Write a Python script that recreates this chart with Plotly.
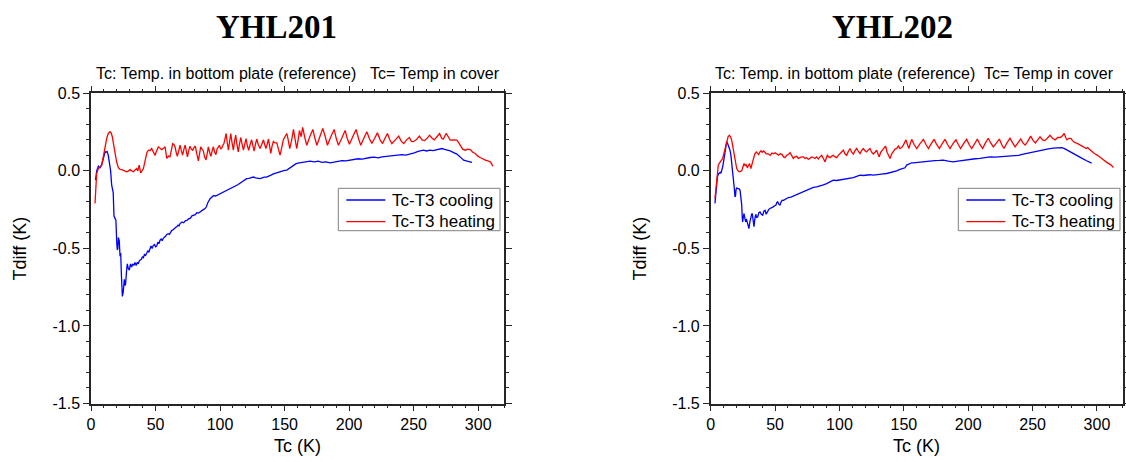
import plotly.graph_objects as go

# ---------------- data ----------------
titles = ["YHL201", "YHL202"]
subtitle_left = "Tc: Temp. in bottom plate (reference)"
subtitle_right = "Tc= Temp in cover"
x_title = "Tc (K)"
y_title = "Tdiff (K)"
series_names = ["Tc-T3 cooling", "Tc-T3 heating"]
x_tick_vals = [0, 50, 100, 150, 200, 250, 300]
y_tick_vals = [-1.5, -1.0, -0.5, 0.0, 0.5]
y_tick_text = ["-1.5", "-1.0", "-0.5", "0.0", "0.5"]

# YHL201 cooling
c1_T = [3.5, 4.4, 5.7, 7.0, 8.3, 9.2, 10.1, 11.0, 11.6, 12.5, 13.4, 14.3, 15.2, 16.0, 16.5, 17.2, 17.8, 18.6,
        19.3, 20.0, 20.4, 20.8, 21.2, 21.9, 22.5, 23.0, 23.6, 24.3, 25.0, 25.8, 26.3, 26.8, 27.4, 28.1, 28.9,
        29.7, 30.6, 31.5, 32.3, 33.2, 34.1, 35.0, 35.8, 36.7, 37.4, 38.0, 39.0, 39.8, 40.6, 41.4, 42.3, 43.2,
        44.0, 44.8, 45.7, 46.5, 47.4, 48.3, 49.2, 50.0, 50.9, 51.8, 52.6, 53.5, 54.4, 55.2, 56.0, 57.0, 57.9,
        58.7, 59.8, 60.8, 61.7, 62.5, 63.6, 64.6, 65.5, 66.4, 67.5, 68.2, 69.0, 70.5, 71.8, 73.0, 74.2, 75.6,
        77.0, 78.2, 79.3, 80.8, 82.0, 83.3, 84.5, 85.8, 87.0, 88.4, 89.5, 90.5, 91.5, 92.3, 93.5, 94.8, 96.5,
        98.2, 100.0, 101.5, 103.2, 105.0, 106.8, 108.5, 110.3, 112.0, 113.7, 115.4, 117.2, 118.9, 120.6, 122.3,
        124.0, 125.8, 127.5, 129.2, 131.0, 132.7, 134.3, 136.0, 137.8, 139.5, 141.3, 143.0, 144.8, 146.5, 148.2,
        150.0, 151.7, 153.4, 155.2, 156.9, 158.6, 160.3, 162.0, 165.0, 167.5, 169.8, 173.0, 176.0, 179.0, 182.0,
        185.3, 188.5, 191.5, 194.5, 197.5, 200.8, 204.0, 207.0, 210.0, 213.0, 216.3, 219.5, 222.5, 225.5, 228.5,
        231.8, 235.0, 238.0, 241.0, 244.0, 247.3, 250.5, 253.5, 255.5, 257.6, 260.0, 262.5, 265.0, 268.0, 270.0,
        271.9, 274.0, 276.0, 278.3, 281.0, 283.5, 286.0, 288.7, 291.5, 293.5, 295.2]
c1_V = [-0.06, 0.0, 0.03, 0.02, 0.04, 0.07, 0.11, 0.125, 0.12, 0.125, 0.10, 0.06, 0.0, -0.09, -0.13, -0.14, -0.29,
        -0.31, -0.32, -0.47, -0.51, -0.50, -0.43, -0.45, -0.55, -0.53, -0.68, -0.81, -0.78, -0.70, -0.74, -0.73,
        -0.66, -0.60, -0.63, -0.64, -0.60, -0.62, -0.60, -0.61, -0.59, -0.61, -0.59, -0.60, -0.58, -0.575, -0.57,
        -0.555, -0.56, -0.54, -0.545, -0.53, -0.515, -0.525, -0.50, -0.485, -0.50, -0.48, -0.475, -0.49, -0.485,
        -0.46, -0.47, -0.447, -0.44, -0.45, -0.435, -0.43, -0.42, -0.41, -0.405, -0.41, -0.39, -0.385, -0.38,
        -0.375, -0.365, -0.36, -0.35, -0.355, -0.34, -0.33, -0.335, -0.322, -0.32, -0.31, -0.305, -0.29, -0.285,
        -0.282, -0.27, -0.272, -0.265, -0.255, -0.25, -0.243, -0.23, -0.205, -0.19, -0.18, -0.17, -0.16, -0.162,
        -0.155, -0.15, -0.145, -0.135, -0.128, -0.12, -0.115, -0.107, -0.10, -0.09, -0.08, -0.07, -0.06, -0.05,
        -0.048, -0.045, -0.04, -0.045, -0.048, -0.05, -0.045, -0.04, -0.04, -0.035, -0.028, -0.02, -0.015, -0.01,
        -0.006, -0.002, 0.003, 0.005, 0.015, 0.03, 0.037, 0.045, 0.05, 0.052, 0.058, 0.063, 0.062, 0.058, 0.062,
        0.055, 0.058, 0.052, 0.058, 0.062, 0.066, 0.064, 0.069, 0.072, 0.078, 0.076, 0.082, 0.086, 0.088, 0.084,
        0.09, 0.093, 0.095, 0.097, 0.10, 0.104, 0.102, 0.108, 0.116, 0.125, 0.13, 0.133, 0.128, 0.133, 0.13,
        0.135, 0.14, 0.144, 0.138, 0.136, 0.129, 0.118, 0.108, 0.09, 0.069, 0.062, 0.058, 0.054]

# YHL201 heating
h1_T = [3.1, 3.8, 4.4, 5.7, 7.0, 8.3, 9.5, 10.9, 12.2, 13.4, 14.7, 15.6, 16.5, 17.5, 18.6, 19.8, 21.2, 22.5, 23.8,
        25.0, 26.3, 27.7, 29.0, 30.3, 31.6, 32.9, 34.1, 35.4, 36.3, 37.3, 38.5, 39.5, 40.6, 41.5, 42.4, 43.4, 44.5,
        45.7, 47.0, 48.3, 49.6, 50.9, 52.2, 53.5, 54.8, 56.1, 57.4, 58.7, 60.0, 61.2, 62.3, 63.3, 64.2, 65.1, 66.0,
        66.9, 68.0, 69.0, 70.0, 71.0, 72.0, 72.9, 73.8, 74.7, 75.7, 76.7, 77.7, 78.8, 79.8, 80.8, 82.0, 83.2, 84.1,
        85.0, 86.0, 87.0, 88.0, 89.1, 90.0, 90.9, 91.9, 92.9, 93.9, 94.8, 95.8, 96.8, 97.6, 98.6, 99.5, 100.5,
        101.5, 102.2, 103.0, 103.9, 104.7, 105.6, 106.5, 107.4, 108.3, 109.3, 110.3, 111.2, 112.1, 113.1, 114.1,
        115.0, 116.0, 117.1, 118.1, 119.1, 120.1, 121.2, 122.2, 123.3, 124.5, 125.5, 126.4, 127.4, 128.4, 129.6,
        131.0, 132.3, 133.6, 134.6, 135.5, 136.5, 137.5, 138.4, 139.3, 140.3, 141.3, 142.6, 144.0, 145.2, 146.5,
        147.8, 149.0, 150.3, 151.7, 152.8, 154.0, 155.5, 156.9, 158.0, 159.4, 160.5, 161.5, 162.8, 164.0, 165.5,
        167.2, 169.5, 171.9, 173.5, 175.0, 177.3, 179.6, 181.5, 183.2, 185.8, 188.4, 190.0, 191.7, 194.3, 196.9,
        198.5, 200.2, 202.8, 205.4, 207.2, 209.0, 211.4, 213.7, 215.6, 217.6, 219.8, 221.9, 224.0, 225.9, 227.8,
        229.7, 231.5, 233.1, 235.8, 238.4, 240.5, 242.3, 244.5, 246.7, 248.2, 249.8, 252.0, 254.4, 256.5, 258.4,
        260.4, 262.3, 264.3, 266.0, 268.0, 270.1, 271.7, 273.0, 274.2, 275.2, 276.8, 278.3, 281.0, 283.5, 285.0,
        286.1, 288.0, 290.0, 292.0, 293.9, 295.8, 297.7, 299.7, 301.6, 303.5, 305.5, 307.5, 309.4, 310.4, 311.4]
h1_V = [-0.21, -0.10, -0.017, 0.015, 0.03, 0.037, 0.09, 0.155, 0.21, 0.241, 0.252, 0.245, 0.22, 0.17, 0.112, 0.06,
        0.02, 0.01, 0.008, 0.005, 0.0, -0.006, 0.0, 0.008, 0.0, -0.006, 0.005, 0.015, 0.0, 0.037, -0.013, 0.0, 0.015,
        0.05, 0.09, 0.12, 0.133, 0.13, 0.144, 0.12, 0.10, 0.13, 0.155, 0.145, 0.137, 0.145, 0.155, 0.08, 0.095, 0.09,
        0.13, 0.176, 0.17, 0.155, 0.12, 0.094, 0.13, 0.165, 0.13, 0.101, 0.14, 0.165, 0.13, 0.09, 0.13, 0.159, 0.14,
        0.133, 0.15, 0.16, 0.11, 0.064, 0.11, 0.155, 0.14, 0.13, 0.09, 0.07, 0.11, 0.155, 0.12, 0.094, 0.13, 0.155,
        0.12, 0.105, 0.14, 0.15, 0.165, 0.14, 0.15, 0.165, 0.176, 0.21, 0.241, 0.18, 0.133, 0.19, 0.241, 0.18, 0.133,
        0.19, 0.23, 0.17, 0.122, 0.17, 0.215, 0.17, 0.133, 0.17, 0.208, 0.16, 0.133, 0.17, 0.20, 0.16, 0.128, 0.17,
        0.205, 0.17, 0.144, 0.17, 0.20, 0.17, 0.144, 0.17, 0.205, 0.16, 0.112, 0.16, 0.19, 0.18, 0.18, 0.14, 0.101,
        0.15, 0.20, 0.22, 0.241, 0.20, 0.144, 0.20, 0.267, 0.21, 0.144, 0.20, 0.26, 0.22, 0.28, 0.22, 0.165, 0.22,
        0.267, 0.21, 0.165, 0.22, 0.274, 0.22, 0.165, 0.22, 0.267, 0.21, 0.165, 0.21, 0.26, 0.21, 0.172, 0.22, 0.267,
        0.21, 0.165, 0.21, 0.252, 0.21, 0.176, 0.21, 0.245, 0.20, 0.176, 0.21, 0.241, 0.20, 0.176, 0.20, 0.224, 0.19,
        0.176, 0.20, 0.215, 0.19, 0.188, 0.20, 0.224, 0.20, 0.195, 0.21, 0.23, 0.21, 0.20, 0.22, 0.241, 0.21, 0.205,
        0.225, 0.241, 0.22, 0.198, 0.20, 0.198, 0.18, 0.165, 0.14, 0.133, 0.14, 0.137, 0.12, 0.112, 0.095, 0.086,
        0.075, 0.069, 0.065, 0.058, 0.045, 0.03]

# YHL202 cooling
c2_T = [3.3, 4.1, 5.2, 6.0, 6.7, 7.4, 8.0, 8.7, 9.3, 10.0, 10.6, 11.5, 12.4, 13.0, 13.7, 14.4, 15.0, 15.7, 16.3,
        17.0, 17.6, 18.3, 18.9, 19.3, 19.7, 20.3, 21.0, 21.9, 22.8, 23.5, 24.1, 24.5, 24.8, 25.3, 25.9, 26.6, 27.2,
        27.7, 28.3, 29.0, 29.7, 30.4, 31.2, 31.8, 32.3, 33.0, 33.6, 34.3, 35.0, 35.7, 36.5, 37.4, 38.3, 39.3, 40.4,
        41.3, 42.2, 43.1, 44.0, 45.0, 46.0, 47.3, 48.6, 49.6, 50.7, 51.3, 52.0, 53.0, 53.8, 54.7, 55.6, 56.6, 57.7,
        59.0, 60.3, 62.3, 64.2, 66.8, 69.4, 72.0, 74.5, 77.1, 79.7, 82.3, 84.9, 87.5, 90.1, 92.7, 95.2, 97.8, 100.4,
        103.0, 105.6, 108.2, 110.8, 113.4, 116.0, 118.5, 121.1, 123.7, 126.3, 128.9, 131.5, 134.1, 136.7, 139.3,
        141.8, 144.4, 147.0, 149.0, 150.9, 152.2, 154.0, 156.1, 157.3, 160.0, 162.6, 166.5, 170.3, 174.0, 177.5,
        180.7, 184.5, 188.5, 192.0, 195.5, 198.8, 202.0, 205.5, 209.2, 213.0, 217.0, 220.8, 224.7, 228.5, 232.0,
        235.1, 239.0, 242.8, 246.5, 250.6, 254.5, 258.4, 262.3, 266.1, 269.5, 272.6, 274.5, 276.5, 279.0, 281.7,
        285.0, 288.1, 292.0, 295.9]
c2_V = [-0.21, -0.125, -0.04, -0.02, -0.017, -0.01, -0.015, 0.0, 0.026, 0.06, 0.09, 0.14, 0.188, 0.18, 0.165, 0.15,
        0.133, 0.10, 0.058, 0.01, -0.04, -0.11, -0.168, -0.16, -0.12, -0.11, -0.114, -0.115, -0.125, -0.17, -0.221,
        -0.30, -0.329, -0.30, -0.275, -0.31, -0.329, -0.31, -0.33, -0.35, -0.372, -0.33, -0.29, -0.28, -0.275, -0.32,
        -0.36, -0.31, -0.28, -0.30, -0.297, -0.27, -0.265, -0.28, -0.286, -0.26, -0.254, -0.28, -0.26, -0.25, -0.243,
        -0.24, -0.232, -0.225, -0.22, -0.205, -0.20, -0.215, -0.22, -0.20, -0.189, -0.19, -0.185, -0.178, -0.172,
        -0.17, -0.163, -0.155, -0.146, -0.135, -0.125, -0.118, -0.107, -0.104, -0.099, -0.09, -0.082, -0.07, -0.06,
        -0.062, -0.058, -0.055, -0.05, -0.048, -0.043, -0.035, -0.028, -0.03, -0.028, -0.025, -0.028, -0.024, -0.021,
        -0.02, -0.017, -0.012, -0.006, 0.0, 0.009, 0.015, 0.02, 0.037, 0.045, 0.052, 0.052, 0.055, 0.058, 0.062,
        0.065, 0.066, 0.067, 0.069, 0.062, 0.058, 0.063, 0.068, 0.073, 0.075, 0.078, 0.08, 0.085, 0.09, 0.088, 0.09,
        0.091, 0.093, 0.095, 0.10, 0.108, 0.115, 0.124, 0.132, 0.139, 0.142, 0.146, 0.148, 0.15, 0.145, 0.135,
        0.125, 0.114, 0.098, 0.082, 0.065, 0.05]

# YHL202 heating
h2_T = [3.3, 4.0, 4.6, 5.3, 5.9, 6.8, 7.7, 8.5, 9.3, 10.2, 11.1, 11.8, 12.4, 13.5, 14.5, 15.4, 16.3, 17.2, 18.1,
        19.2, 20.2, 21.2, 22.2, 23.2, 24.1, 25.0, 25.9, 26.7, 27.5, 28.5, 29.3, 30.1, 30.7, 31.2, 32.3, 33.3, 34.3,
        35.4, 36.3, 37.2, 38.1, 39.0, 40.0, 41.1, 42.1, 43.1, 44.6, 46.2, 47.5, 48.8, 50.1, 51.4, 52.7, 54.0, 55.5,
        56.6, 57.7, 59.0, 60.3, 61.6, 62.9, 64.2, 65.5, 66.8, 68.1, 69.4, 70.7, 72.0, 73.2, 74.5, 75.8, 77.0, 78.4,
        79.7, 81.0, 82.3, 83.6, 84.9, 86.2, 87.5, 88.8, 89.7, 90.6, 91.7, 92.8, 94.0, 95.2, 96.5, 97.8, 99.1, 100.4,
        101.7, 103.0, 104.3, 105.6, 106.9, 108.2, 109.5, 110.8, 112.1, 113.4, 114.7, 116.0, 117.2, 118.5, 119.8,
        121.1, 122.4, 123.7, 125.0, 126.3, 127.6, 128.9, 129.9, 130.9, 132.0, 133.2, 134.5, 135.8, 137.0, 138.2,
        139.3, 140.6, 141.9, 143.2, 144.5, 145.8, 147.0, 148.3, 149.6, 150.6, 151.7, 152.8, 153.9, 155.0, 156.1,
        158.0, 160.0, 162.6, 165.2, 167.2, 169.1, 171.3, 173.5, 175.5, 177.6, 179.8, 182.0, 184.0, 185.9, 188.2,
        190.5, 192.3, 194.1, 196.4, 198.8, 200.7, 202.7, 205.0, 207.1, 209.1, 211.2, 213.4, 215.6, 217.5, 219.5,
        222.0, 224.2, 226.0, 227.8, 230.1, 232.5, 234.5, 236.4, 238.6, 240.8, 242.5, 244.2, 246.3, 248.5, 250.5,
        252.2, 254.0, 255.8, 257.8, 259.5, 261.5, 263.5, 265.5, 267.5, 269.5, 271.5, 273.0, 274.6, 275.7, 276.7,
        278.3, 279.8, 281.0, 282.4, 285.0, 287.6, 289.5, 291.5, 292.8, 294.1, 296.0, 298.0, 300.5, 303.2, 305.2,
        307.1, 309.0, 311.0, 312.8]
h2_V = [-0.178, -0.12, -0.06, 0.0, 0.037, 0.05, 0.058, 0.07, 0.08, 0.11, 0.144, 0.17, 0.198, 0.22, 0.23, 0.22, 0.198,
        0.15, 0.101, 0.05, 0.015, 0.0, -0.006, -0.004, 0.0, 0.025, 0.047, 0.035, 0.04, 0.02, 0.04, 0.047, 0.03, 0.015,
        0.05, 0.09, 0.11, 0.122, 0.11, 0.105, 0.12, 0.13, 0.12, 0.128, 0.12, 0.11, 0.11, 0.10, 0.115, 0.11, 0.117,
        0.11, 0.101, 0.11, 0.105, 0.09, 0.085, 0.10, 0.105, 0.117, 0.10, 0.08, 0.09, 0.094, 0.08, 0.086, 0.09, 0.09,
        0.08, 0.085, 0.075, 0.08, 0.09, 0.086, 0.08, 0.09, 0.076, 0.09, 0.10, 0.08, 0.058, 0.08, 0.10, 0.09, 0.085,
        0.095, 0.10, 0.09, 0.085, 0.10, 0.11, 0.12, 0.133, 0.11, 0.10, 0.125, 0.144, 0.12, 0.108, 0.13, 0.144, 0.125,
        0.112, 0.13, 0.144, 0.13, 0.122, 0.135, 0.144, 0.12, 0.108, 0.12, 0.133, 0.11, 0.09, 0.12, 0.133, 0.15, 0.16,
        0.12, 0.10, 0.08, 0.11, 0.13, 0.14, 0.145, 0.16, 0.144, 0.15, 0.166, 0.185, 0.20, 0.17, 0.144, 0.175, 0.203,
        0.17, 0.144, 0.175, 0.203, 0.17, 0.144, 0.175, 0.203, 0.17, 0.144, 0.175, 0.203, 0.17, 0.144, 0.175, 0.20,
        0.17, 0.144, 0.175, 0.203, 0.17, 0.144, 0.175, 0.205, 0.17, 0.144, 0.18, 0.21, 0.18, 0.155, 0.18, 0.205, 0.17,
        0.144, 0.18, 0.21, 0.18, 0.155, 0.18, 0.205, 0.18, 0.166, 0.19, 0.224, 0.195, 0.18, 0.20, 0.22, 0.20, 0.195,
        0.21, 0.23, 0.21, 0.20, 0.215, 0.215, 0.225, 0.241, 0.215, 0.20, 0.21, 0.21, 0.195, 0.184, 0.175, 0.165,
        0.155, 0.144, 0.15, 0.139, 0.125, 0.112, 0.10, 0.08, 0.07, 0.058, 0.05, 0.037, 0.022]

colors = ["#0000FF", "#FF0000"]

# ---------------- figure ----------------
W, H = 1126, 462
def px_x(p):
    return p / W
def px_y(p):
    return (H - p) / H

x1_dom = [px_x(91), px_x(504)]
x2_dom = [px_x(710.7), px_x(1122.7)]
y_dom = [px_y(403.5), px_y(93.3)]

fig = go.Figure()
panels = [(c1_T, c1_V, h1_T, h1_V, "x", "y"),
          (c2_T, c2_V, h2_T, h2_V, "x2", "y2")]
for cT, cV, hT, hV, xa, ya in panels:
    fig.add_trace(go.Scatter(x=cT, y=cV, mode="lines", name=series_names[0], showlegend=False,
                             line=dict(color=colors[0], width=1.3), xaxis=xa, yaxis=ya))
    fig.add_trace(go.Scatter(x=hT, y=hV, mode="lines", name=series_names[1], showlegend=False,
                             line=dict(color=colors[1], width=1.3), xaxis=xa, yaxis=ya))

axis_line = "#262626"
tick_font = dict(family="Liberation Sans, Arial, sans-serif", size=16, color="#000000")
xcommon = dict(range=[0, 320], tickmode="array", tickvals=x_tick_vals, ticks="outside", ticklen=6,
               tickwidth=1.3, tickcolor=axis_line, showline=True, linecolor=axis_line, linewidth=1.5,
               mirror="ticks", showgrid=False, zeroline=False, tickfont=tick_font, automargin=False,
               minor=dict(dtick=10, tick0=0, ticks="outside", ticklen=3, tickwidth=1.1,
                          tickcolor=axis_line, showgrid=False))
ycommon = dict(range=[-1.5, 0.5], tickmode="array", tickvals=y_tick_vals, ticktext=y_tick_text,
               ticks="outside", ticklen=6, tickwidth=1.3, tickcolor=axis_line, showline=True,
               linecolor=axis_line, linewidth=1.5, mirror="ticks", showgrid=False, zeroline=False,
               tickfont=tick_font, automargin=False,
               minor=dict(dtick=0.1, tick0=0, ticks="outside", ticklen=3, tickwidth=1.1,
                          tickcolor=axis_line, showgrid=False))

fig.update_layout(
    width=W, height=H, margin=dict(l=0, r=0, t=0, b=0, autoexpand=False),
    paper_bgcolor="white", plot_bgcolor="white",
    xaxis=dict(domain=x1_dom, anchor="y", **xcommon),
    yaxis=dict(domain=y_dom, anchor="x", **ycommon),
    xaxis2=dict(domain=x2_dom, anchor="y2", **xcommon),
    yaxis2=dict(domain=y_dom, anchor="x2", **ycommon),
    showlegend=False,
)

sans = "Liberation Sans, Arial, sans-serif"
annots = []
shapes = []
# main titles
for t, cx in zip(titles, [276, 892]):
    annots.append(dict(text="<b>" + t + "</b>", x=px_x(cx), y=px_y(27), xref="paper", yref="paper",
                       xanchor="center", yanchor="middle", showarrow=False,
                       font=dict(family="Liberation Serif, Times New Roman, serif", size=33, color="#000")))
# subtitles
for lx, rx in [(93.5, 502), (713, 1116)]:
    annots.append(dict(text=subtitle_left, x=px_x(lx), y=px_y(73), xref="paper", yref="paper",
                       xanchor="left", yanchor="middle", showarrow=False,
                       font=dict(family=sans, size=16, color="#000")))
    annots.append(dict(text=subtitle_right, x=px_x(rx), y=px_y(73), xref="paper", yref="paper",
                       xanchor="right", yanchor="middle", showarrow=False,
                       font=dict(family=sans, size=16, color="#000")))
# axis titles
for dom, ylx in [(x1_dom, 20), (x2_dom, 640)]:
    annots.append(dict(text=x_title, x=(dom[0] + dom[1]) / 2, y=px_y(446), xref="paper", yref="paper",
                       xanchor="center", yanchor="middle", showarrow=False,
                       font=dict(family=sans, size=18, color="#000")))
    annots.append(dict(text=y_title, x=px_x(ylx), y=(y_dom[0] + y_dom[1]) / 2, xref="paper", yref="paper",
                       xanchor="center", yanchor="middle", textangle=-90, showarrow=False,
                       font=dict(family=sans, size=18, color="#000")))

# legends (one box per panel)
row_y = [200, 221.7]
for box_l, box_r in [(338.3, 500), (958.3, 1120)]:
    shapes.append(dict(type="rect", xref="paper", yref="paper", x0=px_x(box_l), x1=px_x(box_r),
                       y0=px_y(230.7), y1=px_y(188.3), line=dict(color="#808080", width=1),
                       fillcolor="#FFFFFF", layer="above"))
    for name, col, ry in zip(series_names, colors, row_y):
        shapes.append(dict(type="line", xref="paper", yref="paper", x0=px_x(box_l + 8), x1=px_x(box_l + 47),
                           y0=px_y(ry), y1=px_y(ry), line=dict(color=col, width=1.3), layer="above"))
        annots.append(dict(text=name, x=px_x(box_l + 51.5), y=px_y(ry), xref="paper", yref="paper",
                           xanchor="left", yanchor="middle", showarrow=False,
                           font=dict(family=sans, size=17, color="#000")))

fig.update_layout(annotations=annots, shapes=shapes)

fig.write_html("out.html", config={"displayModeBar": False},
               post_script="document.body.style.margin='0';document.body.style.overflow='hidden';")
